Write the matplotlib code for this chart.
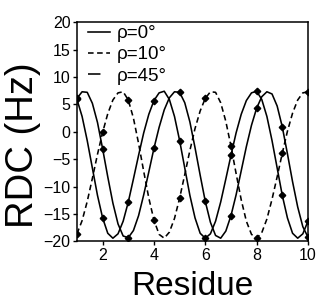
import matplotlib
matplotlib.use('Agg')
import matplotlib.pyplot as plt
from matplotlib.lines import Line2D
import numpy as np

plt.rcParams['font.family'] = ['Liberation Sans', 'DejaVu Sans']

# curves every 0.2 residue, from 1 to 10
residue = np.linspace(1, 10, 46)
rdc_rho0 = [6.1, 7.3, 7.2, 5.2, 1.7, -3.1, -8.2, -13.0, -16.8, -19.0,
            -19.3, -18.0, -15.3, -11.5, -7.3, -3.0, 0.8, 4.0, 6.2, 7.3,
            7.2, 5.3, 1.8, -2.9, -7.9, -12.7, -16.5, -18.9, -19.4, -18.1,
            -15.3, -11.5, -7.1, -2.7, 1.2, 4.3, 6.4, 7.3, 6.9, 4.7,
            0.9, -4.0, -9.1, -13.7, -17.3, -19.2]
rdc_rho10 = [-18.6, -16.2, -12.7, -8.5, -4.1, -0.1, 3.3, 5.8, 7.1, 7.3,
             5.8, 2.5, -2.1, -7.2, -12.1, -16.1, -18.7, -19.4, -18.3, -15.8,
             -12.1, -7.8, -3.4, 0.6, 3.8, 6.1, 7.3, 7.2, 5.3, 1.9,
             -2.6, -7.6, -12.4, -16.3, -18.7, -19.4, -18.4, -15.9, -12.3, -8.2,
             -3.9, 0.1, 3.4, 5.8, 7.1, 7.3]
rdc_rho45 = [5.9, 2.8, -1.6, -6.6, -11.6, -15.7, -18.5, -19.4, -18.6, -16.3,
             -12.8, -8.6, -4.3, -0.2, 3.2, 5.7, 7.1, 7.4, 5.9, 2.8,
             -1.6, -6.6, -11.6, -15.7, -18.5, -19.4, -18.6, -16.3, -12.8, -8.6,
             -4.3, -0.2, 3.2, 5.7, 7.1, 7.4, 5.9, 2.8, -1.6, -6.6,
             -11.6, -15.7, -18.5, -19.4, -18.6, -16.3]

# points at each residue
residue_pts = [1, 2, 3, 4, 5, 6, 7, 8, 9, 10]
pts_rho0 = [6.1, -3.1, -19.3, -3.0, 7.2, -12.7, -15.3, 4.3, 0.9, -19.2]
pts_rho10 = [-18.6, -0.1, 5.8, -16.1, -12.1, 6.1, -2.6, -19.4, -3.9, 7.3]
pts_rho45 = [5.9, -15.7, -12.8, 5.7, -1.6, -19.4, -4.3, 7.4, -11.6, -16.3]

labels = [u'\u03c1=0\u00b0', u'\u03c1=10\u00b0', u'\u03c1=45\u00b0']

fig = plt.figure(figsize=(3.22, 3.03), dpi=100)
ax = fig.add_axes([0.239, 0.203, 0.7174, 0.724])

lw = 1.15
dash = (0, (3.5, 2.2))
ax.plot(residue, rdc_rho0, color='black', lw=lw)
ax.plot(residue, rdc_rho10, color='black', lw=lw, ls=dash)
ax.plot(residue, rdc_rho45, color='black', lw=lw)
for pts in (pts_rho0, pts_rho10, pts_rho45):
    ax.plot(residue_pts, pts, ls='none', marker='D', ms=3.3, color='black')

ax.set_xlim(1, 10)
ax.set_ylim(-20, 20)
ax.set_xticks([2, 4, 6, 8, 10])
ax.set_yticks(np.arange(-20, 21, 5))
ax.tick_params(direction='out', length=3, width=1, labelsize=11.5, pad=1.5,
               top=False, right=False)
for s in ax.spines.values():
    s.set_linewidth(1.1)

ax.set_xlabel('Residue', fontsize=24)
ax.set_ylabel('RDC (Hz)', fontsize=27.5)
ax.xaxis.set_label_coords(0.5, -0.135)
ax.yaxis.set_label_coords(-0.155, 0.44)

handles = [Line2D([], [], color='black', lw=lw),
           Line2D([], [], color='black', lw=lw, ls=dash),
           Line2D([], [], color='black', lw=lw, ls=(0, (7.8, 20)))]
ax.legend(handles, labels, loc='upper left', bbox_to_anchor=(0.04, 0.995),
          frameon=False, fontsize=13.5, handlelength=1.15, handletextpad=0.4,
          labelspacing=0.22, borderaxespad=0, borderpad=0.1)

fig.savefig('out.png', dpi=100)
